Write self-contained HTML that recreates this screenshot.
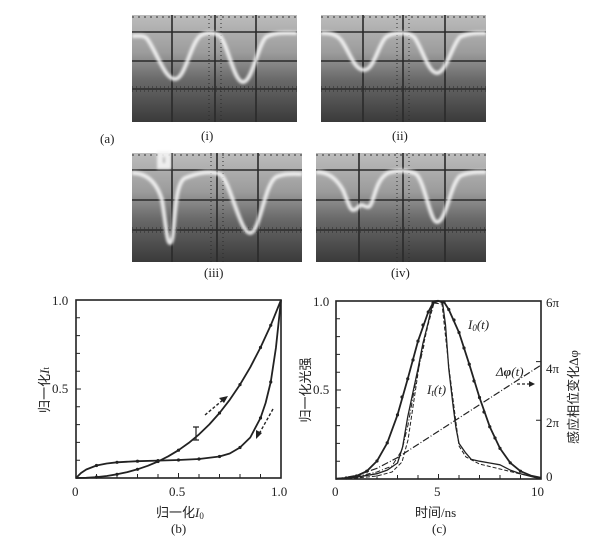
<!DOCTYPE html>
<html><head><meta charset="utf-8"><style>
html,body{margin:0;padding:0;background:#fff;}
svg{display:block;}
text{font-family:"Liberation Serif","Noto Serif CJK SC",serif;fill:#222;}
.cj{font-family:"Liberation Serif","Noto Sans CJK SC",sans-serif;}
</style></head><body>
<svg width="609" height="546" viewBox="0 0 609 546" xmlns="http://www.w3.org/2000/svg">
<defs>
<linearGradient id="scr" x1="0" y1="0" x2="0" y2="1">
<stop offset="0" stop-color="#bcbcbc"/><stop offset="0.35" stop-color="#9c9c9c"/><stop offset="0.6" stop-color="#6a6a6a"/><stop offset="1" stop-color="#3a3a3a"/>
</linearGradient>
<filter id="glow"><feGaussianBlur stdDeviation="1.2"/></filter>
</defs>

<g>
<rect x="132" y="15" width="165" height="107" fill="url(#scr)"/>
<rect x="321" y="15" width="165" height="107" fill="url(#scr)"/>
<rect x="132" y="153" width="170" height="109" fill="url(#scr)"/>
<rect x="316" y="153" width="170" height="109" fill="url(#scr)"/>
</g>
<g stroke="#2a2a2a" stroke-width="1.6" fill="none">
<path d="M132 32H297M132 61H297M132 89H297M172 15V122M215 15V122M256 15V122"/>
<path d="M321 32H486M321 61H486M321 89H486M363 15V122M403 15V122M445 15V122"/>
<path d="M132 170H302M132 200H302M132 230H302M172 153V262M217 153V262M258 153V262"/>
<path d="M316 170H486M316 200H486M316 230H486M359 153V262M403 153V262M445 153V262"/>
</g>
<g stroke="#333" stroke-width="1" stroke-dasharray="2 4" fill="none">
<path d="M132 17H297M321 17H486M132 155H302M316 155H486"/>
</g>
<g stroke="#2a2a2a" stroke-width="1" fill="none" stroke-dasharray="1 3">
<path d="M209 15V122M221 15V122M397 15V122M409 15V122M211 153V262M223 153V262M397 153V262M409 153V262"/>
<path d="M132 87H297M132 91H297M321 87H486M321 91H486M132 228H302M132 232H302M316 228H486M316 232H486"/>
</g>
<g stroke="#f4f4f4" fill="none" stroke-width="4" filter="url(#glow)" opacity="0.9">
<path d="M132 36C140 36 145 35 148 40C158 55 165 79 175 79C185 79 190 45 200 36C206 32 214 32 220 36C228 45 234 82 243 82C252 82 258 45 266 37C274 32 285 33 297 33"/>
<path d="M321 33C330 33 336 34 341 40C350 52 354 70 364 70C374 70 378 45 386 37C393 32 408 32 414 37C422 47 428 73 437 73C446 73 452 45 460 37C468 33 478 33 486 33"/>
<path d="M132 173C145 173 156 180 162 200C166 225 167 243 170 243C176 243 172 185 185 178C200 172 210 171 220 174C230 180 240 233 250 233C260 233 264 185 276 177C285 173 294 174 302 174"/>
<path d="M316 172C328 172 336 178 343 190C348 202 350 210 353 210C358 210 358 205 361 205C364 205 365 207 368 207C374 207 374 180 388 173C396 170 408 170 416 174C425 182 430 222 437 222C446 222 450 185 460 176C468 172 478 172 486 172"/>
<path d="M160 154L168 154L168 166L160 166Z" stroke-width="6"/>
</g>
<text x="100" y="143" font-size="13">(a)</text>
<text x="201" y="140" font-size="13">(i)</text>
<text x="392" y="140" font-size="13">(ii)</text>
<text x="204" y="277" font-size="13">(iii)</text>
<text x="391" y="277" font-size="13">(iv)</text>

<!-- chart b -->
<rect x="76" y="300" width="205" height="178" fill="none" stroke="#222" stroke-width="1.6"/>
<g stroke="#222" stroke-width="1">
<path d="M76 317.8h4M76 335.6h4M76 353.4h4M76 371.2h4M76 389h5M76 406.8h4M76 424.6h4M76 442.4h4M76 460.2h4"/>
<path d="M96.5 478v-4M117 478v-4M137.5 478v-4M158 478v-4M178.5 478v-5M199 478v-4M219.5 478v-4M240 478v-4M260.5 478v-4"/>
</g>
<g fill="none" stroke="#222" stroke-width="1.8" stroke-linejoin="round">
<polyline points="76,478 86.25,477.8 96.5,477.1 106.75,476 117,474.3 127.25,472.1 137.5,469.3 147.75,465.8 158,461.5 168.25,456.3 178.5,450.2 188.75,442.9 199,434.4 209.25,424.5 219.5,413 229.75,399.8 240,384.6 250.25,367.3 260.5,347.5 270.75,325.3 281,300"/>
<polyline points="76,478 81,473 86.25,469.5 96.5,465.5 106.75,463.5 117,462.3 137.5,461.2 158,460.6 178.5,460 199,459 219.5,456.5 229.75,453.5 240,447.5 250.25,437.5 260.5,418 265.6,403 270.75,382 275.9,348 281,300"/>
<path d="M196 427v13M193 427h6M193 440h6" stroke-width="1.2"/>
<path d="M205 415L224 399" stroke-dasharray="3 2" stroke-width="1.4"/>
<path d="M273 409L259 434" stroke-dasharray="3 2" stroke-width="1.4"/>
</g>
<path d="M228 396L219 398L224 403Z M256 439L256 430L262 433Z" fill="#222"/>
<g fill="#222">
<circle cx="96.5" cy="477.1" r="1.6"/><circle cx="117" cy="474.3" r="1.6"/><circle cx="137.5" cy="469.3" r="1.6"/><circle cx="158" cy="461.5" r="1.6"/><circle cx="178.5" cy="450.2" r="1.6"/><circle cx="219.5" cy="413" r="1.6"/><circle cx="240" cy="384.6" r="1.6"/><circle cx="260.5" cy="347.5" r="1.6"/><circle cx="270.75" cy="325.3" r="1.6"/>
<circle cx="96.5" cy="465.5" r="1.6"/><circle cx="117" cy="462.3" r="1.6"/><circle cx="137.5" cy="461.2" r="1.6"/><circle cx="158" cy="460.6" r="1.6"/><circle cx="178.5" cy="460" r="1.6"/><circle cx="199" cy="459" r="1.6"/><circle cx="219.5" cy="456.5" r="1.6"/><circle cx="240" cy="447.5" r="1.6"/><circle cx="260.5" cy="418" r="1.6"/><circle cx="270.75" cy="382" r="1.6"/>
</g>
<g font-size="13">
<text x="52" y="305">1.0</text><text x="52" y="393">0.5</text>
<text x="72" y="496">0</text><text x="169" y="496">0.5</text><text x="271" y="496">1.0</text>
<text x="156" y="517" class="cj">归一化<tspan font-style="italic" font-family="Liberation Serif">I</tspan><tspan font-size="9" dy="2">0</tspan></text>
<text x="171" y="533">(b)</text>
<text transform="translate(49,390) rotate(-90)" text-anchor="middle" class="cj">归一化<tspan font-style="italic" font-family="Liberation Serif">I</tspan><tspan font-size="9">t</tspan></text>
</g>

<!-- chart c -->
<rect x="336" y="301" width="205" height="178" fill="none" stroke="#222" stroke-width="1.6"/>
<g stroke="#222" stroke-width="1">
<path d="M336 318.8h4M336 336.6h4M336 354.4h4M336 372.2h4M336 390h5M336 407.8h4M336 425.6h4M336 443.4h4M336 461.2h4"/>
<path d="M356.5 479v-4M377 479v-4M397.5 479v-4M418 479v-4M438.5 479v-5M459 479v-4M479.5 479v-4M500 479v-4M520.5 479v-4"/>
<path d="M541 301h-5M541 361.6h-5M541 420.3h-5"/>
</g>
<g fill="none" stroke="#222" stroke-linejoin="round">
<polyline stroke-width="1.8" points="336,478.7 346.25,478 356.5,476 366.75,471.2 377,461 387.25,442.9 397.5,414.9 407.75,378.8 418,341.1 428.25,312 433,303 438.5,301 444,302 448.75,309.5 459,332.5 469.25,364.2 479.5,397.5 489.75,426.7 500,448.4 510.25,462.8 520.5,471.2 530.75,475.6 541,477.7"/>
<polyline stroke-width="1.3" points="336,479 356.5,477.2 377,473.7 387.25,470.1 397.5,463 402.6,447 407.75,416.7 413,392 418,368.6 423,343 428.25,322.4 431,310 434.4,301 438,300.5 442.6,303 445.5,325 448.75,368.6 453,405 456,428 459,443.4 465.2,452.3 471.3,459.4 479.5,461.2 489.75,463 500,464.8 510.25,470.1 520.5,473.7 541,479"/>
<polyline stroke-width="1" stroke-dasharray="4 2" points="336,479 356.5,478 377,476 392,472 402,462 408,440 414,400 420,360 428,325 434,303 442,304 449,368 459,446 466,457 479.5,464 500,469 520.5,474 541,478"/>
<polyline stroke-width="1" stroke-dasharray="5 2 1 2" points="336,479 356.5,476.5 377,472 392,466 402,450 408,425 416,380 424,345"/>
<polyline stroke-width="1.2" stroke-dasharray="7 2 1 2" points="336,479 356.5,475.4 377,468.3 397.5,457.6 541,365.1"/>
<path d="M517 384H531" stroke-dasharray="3 2" stroke-width="1.3"/>
</g>
<path d="M535 384L529 381L529 387Z" fill="#222"/>
<g fill="#222">
<circle cx="346.25" cy="478" r="1.6"/><circle cx="356.5" cy="476" r="1.6"/><circle cx="366.75" cy="471.2" r="1.6"/><circle cx="377" cy="461" r="1.6"/><circle cx="387.25" cy="442.9" r="1.6"/><circle cx="397.5" cy="414.9" r="1.6"/><circle cx="402" cy="397" r="1.6"/><circle cx="407.75" cy="378.8" r="1.6"/><circle cx="413" cy="360" r="1.6"/><circle cx="418" cy="341.1" r="1.6"/><circle cx="423" cy="325" r="1.6"/><circle cx="428.25" cy="312" r="1.6"/><circle cx="433" cy="303" r="1.6"/><circle cx="444" cy="302" r="1.6"/><circle cx="448.75" cy="309.5" r="1.6"/><circle cx="454" cy="320" r="1.6"/><circle cx="459" cy="332.5" r="1.6"/><circle cx="464" cy="348" r="1.6"/><circle cx="469.25" cy="364.2" r="1.6"/><circle cx="474" cy="381" r="1.6"/><circle cx="479.5" cy="397.5" r="1.6"/><circle cx="484" cy="412" r="1.6"/><circle cx="489.75" cy="426.7" r="1.6"/><circle cx="495" cy="438" r="1.6"/><circle cx="500" cy="448.4" r="1.6"/><circle cx="510.25" cy="462.8" r="1.6"/><circle cx="520.5" cy="471.2" r="1.6"/>
</g>
<g font-size="13">
<text x="313" y="306">1.0</text><text x="313" y="394">0.5</text>
<text x="332" y="496">0</text><text x="434" y="496">5</text><text x="531" y="496">10</text>
<text x="546" y="307">6π</text><text x="546" y="373">4π</text><text x="546" y="427">2π</text><text x="546" y="481">0</text>
<text x="415" y="517" class="cj">时间/ns</text>
<text x="432" y="533">(c)</text>
<text x="468" y="329" font-style="italic">I<tspan font-size="9" dy="2">0</tspan><tspan dy="-2">(t)</tspan></text>
<text x="427" y="394" font-style="italic">I<tspan font-size="9" dy="2">t</tspan><tspan dy="-2">(t)</tspan></text>
<text x="496" y="376" font-style="italic">Δ<tspan font-weight="bold">φ</tspan>(t)</text>
<text transform="translate(310,390) rotate(-90)" text-anchor="middle" class="cj">归一化光强</text>
<text transform="translate(578,397) rotate(-90)" text-anchor="middle" class="cj">感应相位变化Δφ</text>
</g>
</svg>
</body></html>
